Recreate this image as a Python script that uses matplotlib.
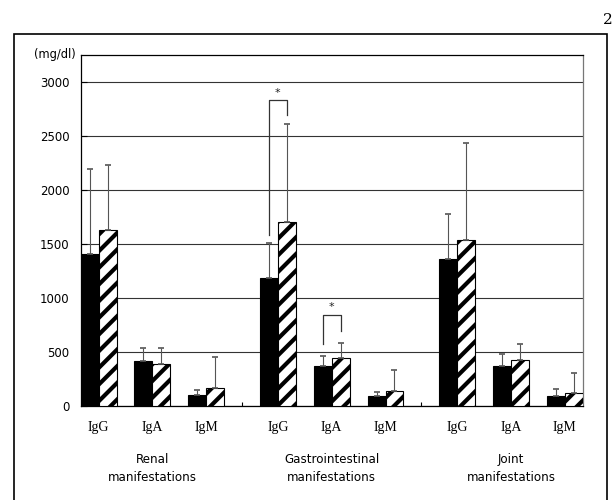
import numpy as np
import matplotlib
matplotlib.use("Agg")
import matplotlib.pyplot as plt
from matplotlib.patches import Rectangle
import matplotlib.transforms as mtransforms

plt.rcParams['hatch.linewidth'] = 3.0

isotypes = ['IgG', 'IgA', 'IgM']
groups = ['Renal\nmanifestations', 'Gastrointestinal\nmanifestations', 'Joint\nmanifestations']

# solid bars (mean) and upper SD
solid_mean = [1407, 417, 102, 1185, 370, 93, 1361, 373, 93]
solid_sd = [793, 117, 43, 321, 96, 40, 419, 105, 61]
# hatched bars (mean) and upper SD
hatch_mean = [1627, 386, 167, 1704, 441, 139, 1534, 429, 123]
hatch_sd = [604, 148, 290, 907, 145, 194, 907, 142, 185]

# significance brackets: bar index, left leg bottom, top, right leg bottom
sig = [(3, 1583, 2833, 2694), (4, 574, 843, 697)]

yticks = [0, 500, 1000, 1500, 2000, 2500, 3000]

fig = plt.figure(figsize=(6.16, 5.0), dpi=100)
ax = fig.add_axes([0.131, 0.188, 0.815, 0.7014])

x = np.array([g * 10 + c * 3 for g in range(3) for c in range(3)], dtype=float)

ax.bar(x, solid_mean, width=-1, align='edge', color='black', edgecolor='black',
       linewidth=0.8, zorder=3)
ax.bar(x, hatch_mean, width=1, align='edge', color='white', edgecolor='black',
       hatch='//', linewidth=0.8, zorder=3)

zeros = np.zeros(len(x))
ax.errorbar(x - 0.5, solid_mean, yerr=[zeros, solid_sd], fmt='none', ecolor='#555555',
            elinewidth=0.8, capsize=2, capthick=1.2, zorder=4)
ax.errorbar(x + 0.5, hatch_mean, yerr=[zeros, hatch_sd], fmt='none', ecolor='#555555',
            elinewidth=0.8, capsize=2, capthick=1.2, zorder=4)

for i, lb, top, rb in sig:
    xl, xr = x[i] - 0.5, x[i] + 0.5
    ax.plot([xl, xl, xr, xr], [lb, top, top, rb], color='#333333', lw=0.9, zorder=5)
    ax.text(x[i], top + 25, '*', ha='center', va='bottom', fontsize=8, color='#222222')

ax.set_xlim(-1, 27)
ax.set_ylim(0, 3250)
ax.set_yticks(yticks)
ax.set_yticklabels([str(v) for v in yticks], fontsize=8.5, family='DejaVu Sans')
ax.yaxis.grid(True, color='#333333', lw=0.8, zorder=0)
ax.set_axisbelow(True)
ax.tick_params(axis='y', direction='in', length=4, pad=8, width=0.8)

ax.set_xticks(x)
ax.set_xticklabels(isotypes * 3, fontsize=10, family='Liberation Serif')
ax.tick_params(axis='x', length=0, pad=10.5)
ax.set_xticks([8, 18], minor=True)
ax.tick_params(axis='x', which='minor', direction='in', length=3, width=0.8)

for s in ['left', 'bottom', 'top']:
    ax.spines[s].set_color('black')
    ax.spines[s].set_linewidth(0.9)
ax.spines['right'].set_color('#777777')
ax.spines['right'].set_linewidth(0.9)

trans = mtransforms.blended_transform_factory(ax.transData, ax.transAxes)
for g, name in enumerate(groups):
    ax.text(g * 10 + 3, -0.135, name, transform=trans, ha='center', va='top',
            fontsize=8.6, linespacing=1.5, family='DejaVu Sans')

fig.text(54.5 / 616, 1 - 54.5 / 500, '(mg/dl)', ha='center', va='center', fontsize=8.3,
         family='DejaVu Sans')
fig.text(608 / 616, 1 - 20.5 / 500, '2', ha='center', va='center', fontsize=11,
         family='DejaVu Serif')

# outer page frame, open below the picture edge
frame = Rectangle((14 / 616, -10 / 500), (607 - 14) / 616, (510 - 34.3) / 500,
                  transform=fig.transFigure, fill=False, edgecolor='black', lw=1.2)
fig.patches.append(frame)

fig.savefig('out.png', dpi=100)
